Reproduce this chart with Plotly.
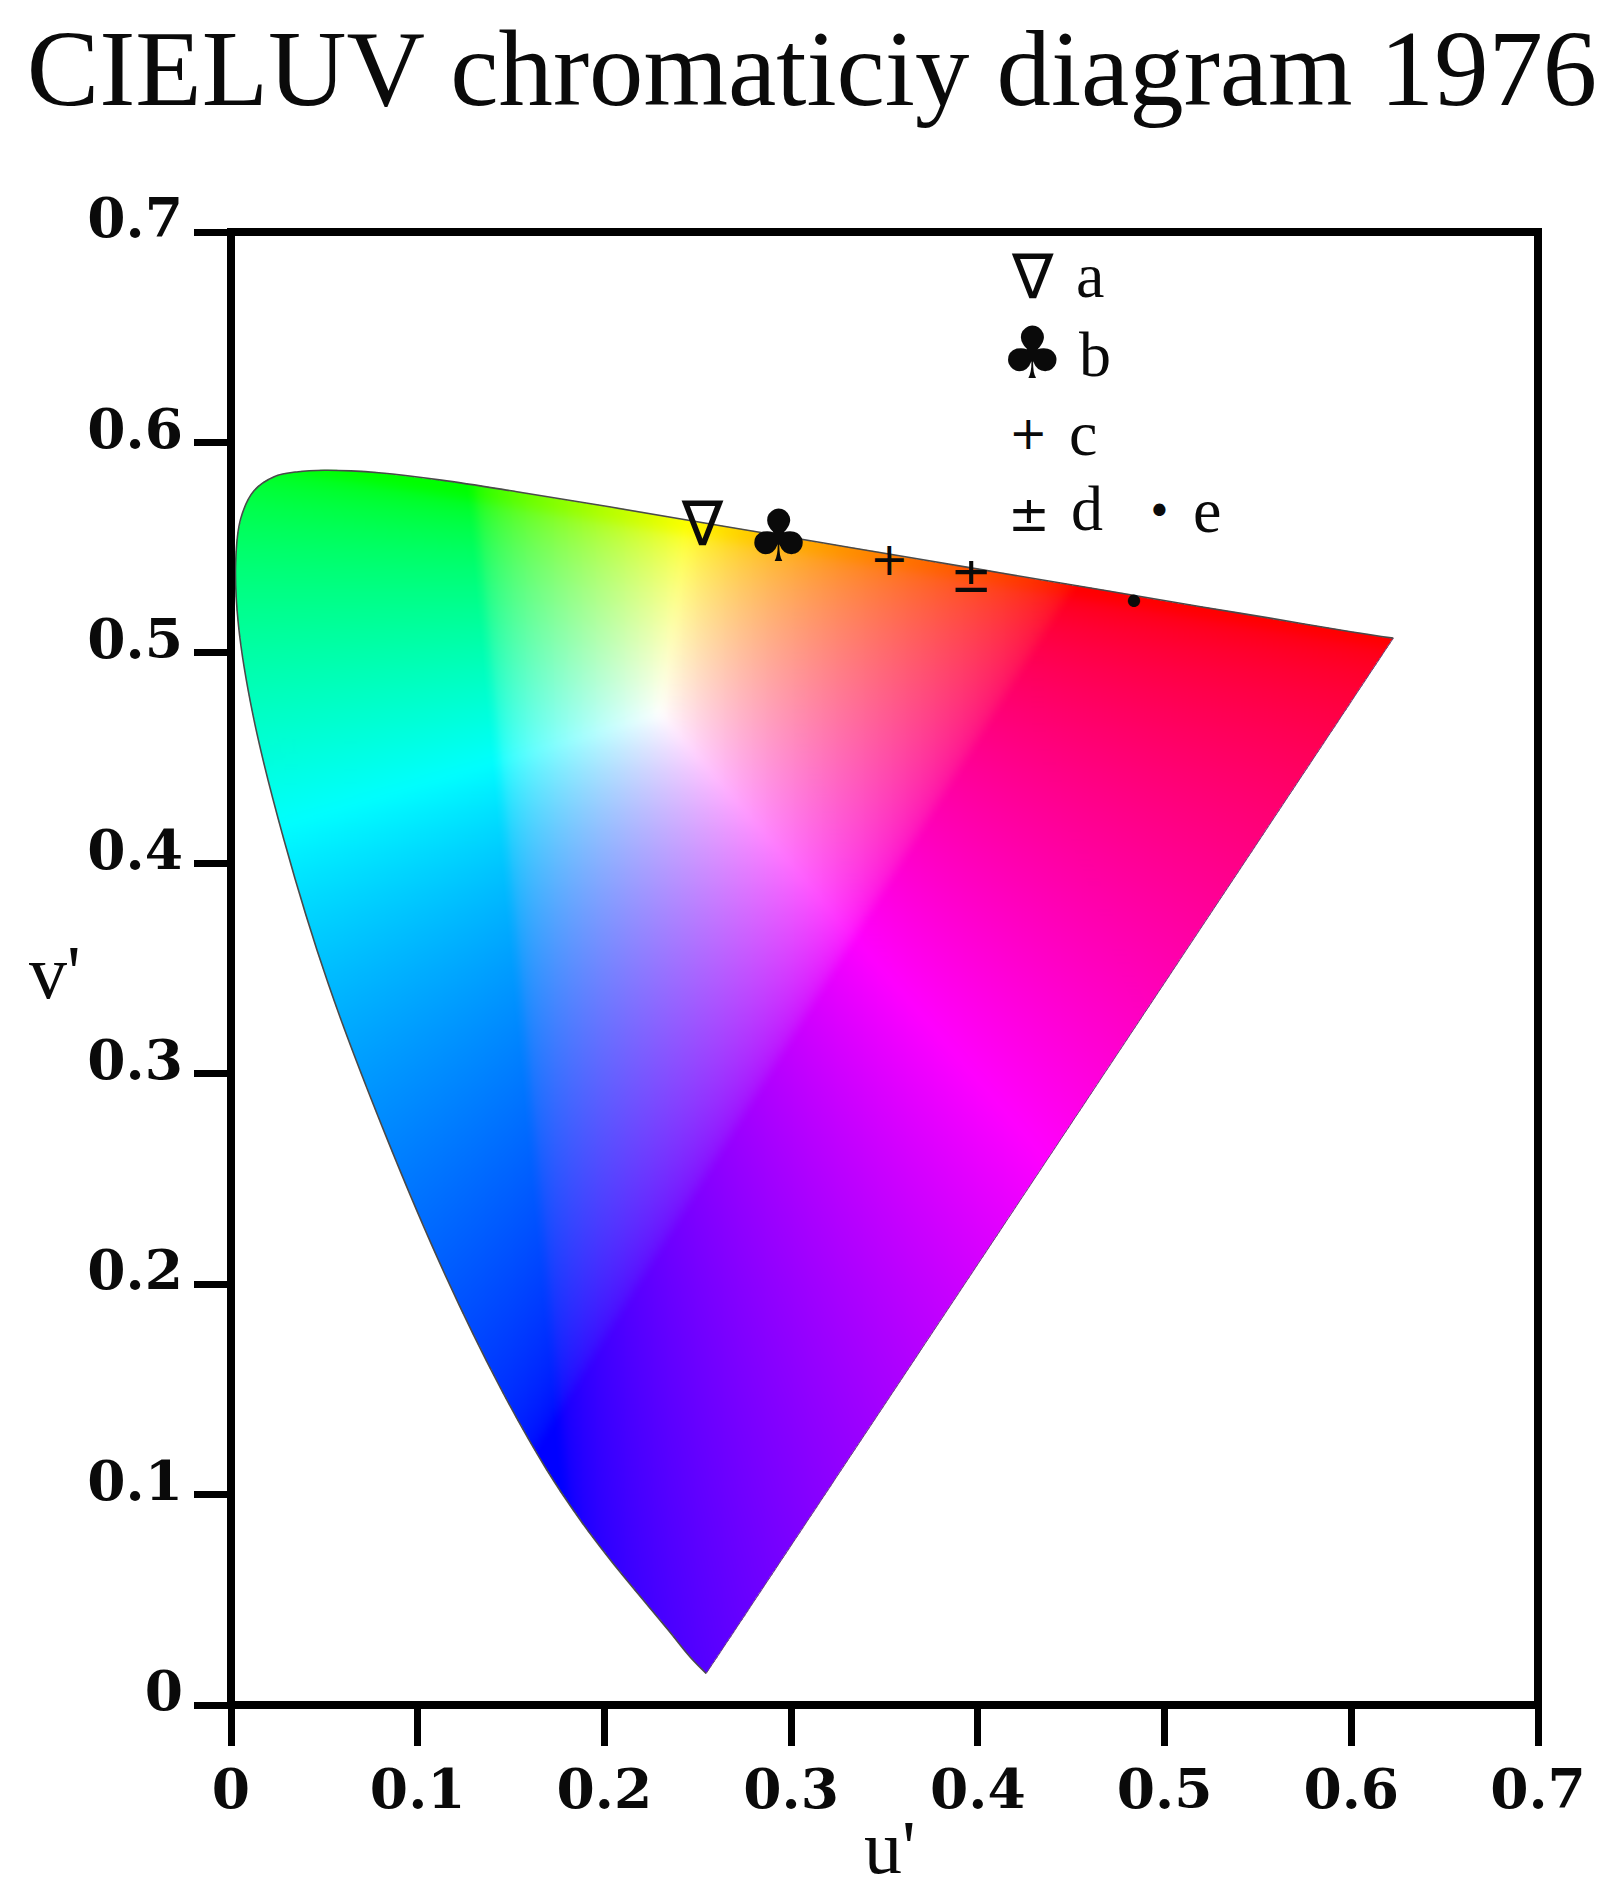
import base64, struct, zlib
import numpy as np
import plotly.graph_objects as go

# Spectrum locus (u', v')
locus_u = [0.2545,0.2461,0.2347,0.2161,0.2033,0.1877,0.1690,0.1441,0.1147,0.0828,0.0521,0.0282,0.0119,0.0040,0.0025,0.0052,0.0123,0.0231,0.0360,0.0501,0.0643,0.0792,0.1127,0.1531,0.2026,0.2623,0.3315,0.4035,0.4691,0.5202,0.5565,0.6005,0.6225]
locus_v = [0.0150,0.0226,0.0350,0.0549,0.0688,0.0871,0.1119,0.1510,0.2044,0.2708,0.3427,0.4117,0.4699,0.5131,0.5431,0.5638,0.5770,0.5837,0.5861,0.5868,0.5865,0.5856,0.5821,0.5766,0.5694,0.5604,0.5501,0.5393,0.5295,0.5218,0.5165,0.5099,0.5070]

# Colour anchors of the shading
prim_u = [0.450, 0.1290, 0.175]   # R, G, B
prim_v = [0.5285, 0.5745, 0.137]
white_uv = [0.230, 0.471]

# Measured points
pt_names = ["a", "b", "c", "d", "e"]
pt_glyph = ["∇", "♣", "+", "±", "•"]
pt_u = [0.2525, 0.2932, 0.3525, 0.3965, 0.4835]
pt_v = [0.5585, 0.5520, 0.5425, 0.5350, 0.5222]
pt_size = [62, 72, 46, 50, 42]

tick_vals = [0, 0.1, 0.2, 0.3, 0.4, 0.5, 0.6, 0.7]
tick_text = ["0", "0.1", "0.2", "0.3", "0.4", "0.5", "0.6", "0.7"]

X0, X1, Y0, Y1 = 231.0, 1538.5, 1704.6, 232.4


def smooth_outline(u, v, n=8):
    p = np.column_stack([u, v])
    p = np.vstack([p[0], p, p[-1]])
    out = []
    for i in range(1, len(p) - 2):
        for t in np.linspace(0, 1, n, endpoint=False):
            a, b, c, d = p[i - 1], p[i], p[i + 1], p[i + 2]
            out.append(0.5 * (2 * b + (c - a) * t + (2 * a - 5 * b + 4 * c - d) * t ** 2 + (3 * b - a - 3 * c + d) * t ** 3))
    out.append(p[-1])
    return np.array(out)


def box(a, r):
    for ax in (0, 1):
        c = np.cumsum(np.insert(a, 0, 0, axis=ax), axis=ax)
        idx = np.arange(a.shape[ax])
        lo = np.clip(idx - r, 0, None)
        hi = np.clip(idx + r + 1, None, a.shape[ax])
        w = (hi - lo).reshape((-1, 1, 1) if ax == 0 else (1, -1, 1))
        a = (np.take(c, hi, axis=ax) - np.take(c, lo, axis=ax)) / w
    return a


def shading_png():
    w, h = 1400, 1400
    uu = (np.arange(w) + 0.5) / w * 0.7
    vv = (np.arange(h) + 0.5) / h * 0.7
    U, V = np.meshgrid(uu, vv)
    T = np.array([prim_u, prim_v, [1, 1, 1]], float)
    Ti = np.linalg.inv(T)
    px = np.stack([U, V, np.ones_like(U)], axis=-1)
    b = px @ Ti.T
    bw = Ti @ np.array([white_uv[0], white_uv[1], 1.0])
    rgb = np.clip(b / bw, 0, None)
    rgb = rgb / rgb.max(axis=-1, keepdims=True)
    rgb = rgb ** 0.52
    rgb = box(rgb, 6)
    poly = smooth_outline(locus_u, locus_v)
    pu, pv = poly[:, 0], poly[:, 1]
    inside = np.zeros_like(U, bool)
    j = len(pu) - 1
    for i in range(len(pu)):
        c = (pv[i] > V) != (pv[j] > V)
        with np.errstate(divide="ignore", invalid="ignore"):
            xc = (pu[j] - pu[i]) * (V - pv[i]) / (pv[j] - pv[i]) + pu[i]
        inside ^= c & (U < xc)
        j = i
    a = (inside * 255).astype(np.uint8)
    rgba = np.dstack([(rgb * 255).astype(np.uint8), a])[::-1]
    raw = b"".join(b"\x00" + row.tobytes() for row in rgba)
    def chunk(t, d):
        return struct.pack(">I", len(d)) + t + d + struct.pack(">I", zlib.crc32(t + d) & 0xffffffff)
    png = b"\x89PNG\r\n\x1a\n" + chunk(b"IHDR", struct.pack(">IIBBBBB", w, h, 8, 6, 0, 0, 0)) + chunk(b"IDAT", zlib.compress(raw, 6)) + chunk(b"IEND", b"")
    return "data:image/png;base64," + base64.b64encode(png).decode()


fig = go.Figure()
fig.add_trace(go.Scatter(x=locus_u, y=locus_v, mode="lines", line=dict(color="#4a4a4a", width=1.6, shape="spline", smoothing=1.0),
                         hoverinfo="skip", showlegend=False))
fig.add_trace(go.Scatter(x=[locus_u[0], locus_u[-1]], y=[locus_v[0], locus_v[-1]], mode="lines",
                         line=dict(color="#6a4a7a", width=1), hoverinfo="skip", showlegend=False))
fig.add_trace(go.Scatter(x=pt_u, y=pt_v, mode="text", text=pt_glyph, textposition="middle center",
                         textfont=dict(family="DejaVu Sans", size=pt_size, color="#0a0a0a"), showlegend=False))

fig.add_layout_image(dict(source=shading_png(), xref="x", yref="y", x=0, y=0.7, sizex=0.7, sizey=0.7,
                          sizing="stretch", layer="below", xanchor="left", yanchor="top"))
fig.add_shape(type="rect", xref="paper", yref="paper", x0=0, y0=0, x1=1, y1=1, line=dict(color="black", width=8), layer="above")

ann = []
SER = "Liberation Serif"
def note(x, y, t, size, fam=SER):
    ann.append(dict(xref="paper", yref="paper", x=x, y=y, text=t, showarrow=False, xanchor="center", yanchor="middle",
                    font=dict(family=fam, size=size, color="#0a0a0a")))
KX = lambda px: (px * 1615 / 1334 - X0) / (X1 - X0)
KY = lambda py: (Y0 - py * 1615 / 1334) / (Y0 - Y1)
for px, py, t, s, f in [(853, 229, "∇", 62, "DejaVu Sans"), (901, 228, "a", 64, SER),
                        (853, 292, "♣", 72, "DejaVu Sans"), (905, 293, "b", 64, SER),
                        (850, 358, "+", 46, "DejaVu Sans"), (895, 358, "c", 64, SER),
                        (850, 425, "±", 50, "DejaVu Sans"), (898, 420, "d", 64, SER),
                        (958, 423, "•", 42, "DejaVu Sans"), (997, 422, "e", 64, SER),
                        (735, 1525, "u'", 76, SER), (45, 803, "v'", 76, SER)]:
    note(KX(px), KY(py), t, s, f)

tf = dict(family="DejaVu Serif", size=55, color="#0a0a0a", weight="bold")
xaxis = dict(range=[0, 0.7], tickvals=tick_vals, ticktext=tick_text, ticks="outside", ticklen=40, tickwidth=7,
             tickcolor="black", showline=False, showgrid=False, zeroline=False, tickfont=tf, ticklabelstandoff=-4)
yaxis = dict(range=[0, 0.7], tickvals=tick_vals, ticktext=tick_text, ticks="outside", ticklen=36, tickwidth=7,
             tickcolor="black", showline=False, showgrid=False, zeroline=False, tickfont=tf, ticklabelshift=-14)

fig.update_layout(
    width=1615, height=1898, margin=dict(l=X0, r=1615 - X1, t=Y1, b=1898 - Y0),
    paper_bgcolor="white", plot_bgcolor="white", xaxis=xaxis, yaxis=yaxis, annotations=ann, showlegend=False,
    title=dict(text="CIELUV chromaticiy diagram 1976", x=0.0165, xanchor="left", y=0.9645, yanchor="middle",
               font=dict(family=SER, size=108.7, color="#0a0a0a")),
)
fig.write_html("out.html", config={"displayModeBar": False}, post_script="document.body.style.margin='0';")
